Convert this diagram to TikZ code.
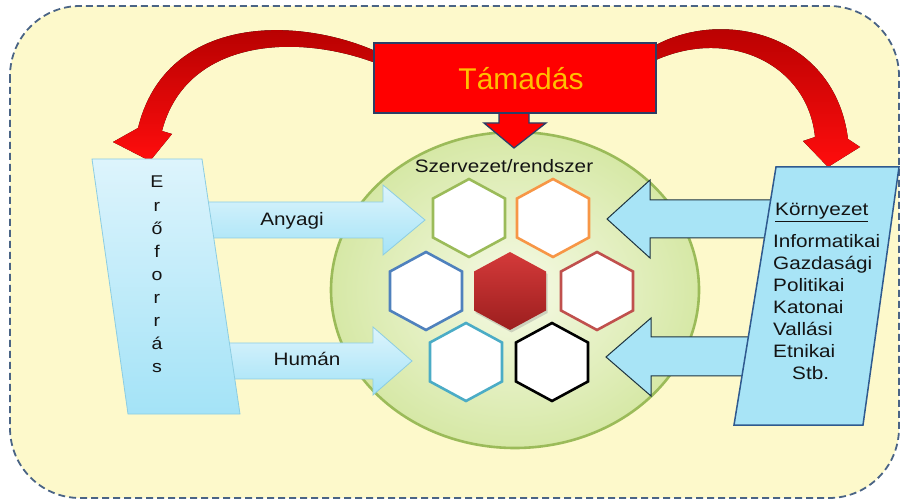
\documentclass[tikz,border=0pt]{standalone}
\usepackage{fontspec}
\setmainfont{Liberation Sans}
\newfontfamily\wfont{Liberation Sans}[FakeStretch=1.15]
\usetikzlibrary{shadows}
\definecolor{bgyel}{HTML}{FDF9CB}
\definecolor{dashc}{HTML}{4A6485}
\definecolor{rdark}{HTML}{B00000}
\definecolor{navy}{HTML}{2C3E66}
\definecolor{cin}{HTML}{F6FAE6}
\definecolor{cout}{HTML}{D6E8A6}
\definecolor{cring}{HTML}{9BBB59}
\definecolor{hgreen}{HTML}{9BBB59}
\definecolor{horange}{HTML}{F79646}
\definecolor{hblue}{HTML}{4F81BD}
\definecolor{hred}{HTML}{C0504D}
\definecolor{hcyan}{HTML}{4BACC6}
\definecolor{hctop}{HTML}{D43A3A}
\definecolor{hcbot}{HTML}{9C1E1E}
\definecolor{lbtop}{HTML}{DDF4FC}
\definecolor{lbbot}{HTML}{A4E3F7}
\definecolor{lbdraw}{HTML}{8CCDE2}
\definecolor{rbfill}{HTML}{A8E4F6}
\definecolor{rbdraw}{HTML}{2F5A8F}
\definecolor{rarrdraw}{HTML}{1E3440}
\definecolor{tamc}{HTML}{FFC000}
\definecolor{txt}{HTML}{141414}
\tikzset{
  redcurve/.style={top color=rdark, bottom color=red!95!white},
  hexline/.style={line width=2.6pt, fill=white, line join=miter},
  leftarr/.style={top color=lbtop, bottom color=lbbot, draw=lbdraw, line width=0.8pt},
  rightarr/.style={fill=rbfill, draw=rarrdraw, line width=1pt},
  lbl/.style={font=\wfont\fontsize{18}{22}\selectfont, text=txt, inner sep=0pt, anchor=base},
  envtxt/.style={font=\wfont\fontsize{18}{22}\selectfont, text=txt, inner sep=0pt, anchor=base west},
  letter/.style={font=\wfont\fontsize{17}{20}\selectfont, text=txt, inner sep=0pt, anchor=base}
}
\newcommand\hexpath{(0,-39) -- (36,-19.5) -- (36,19.5) -- (0,39) -- (-36,19.5) -- (-36,-19.5) -- cycle}
\begin{document}
\begin{tikzpicture}[x=1pt,y=-1pt]
\path[use as bounding box] (0,0) rectangle (902,502);
% background frame
\draw[dashc, line width=1.8pt, dash pattern=on 7pt off 4pt, fill=bgyel, rounded corners=70pt] (10,6) rectangle (899,498);

% system ellipse
\draw[cring, line width=2.6pt, inner color=cin, outer color=cout] (515,290) ellipse [x radius=184, y radius=158];

% red curved arrows
\fill[redcurve] (373,50) .. controls (290,15) and (165,18) .. (138,128) -- (113,142) -- (150,161) -- (172,134) -- (162,131) .. controls (185,42) and (290,32) .. (373,62) -- cycle;
\fill[redcurve] (656,45) .. controls (725,8) and (835,35) .. (848,139) -- (860,147) -- (828,167) -- (803,141) -- (815,137) .. controls (808,65) and (730,27) .. (656,60) -- cycle;

% down arrow and attack box
\draw[fill=red, draw=navy, line width=1.3pt, line join=miter] (499,110) -- (499,123) -- (484,123) -- (514,148) -- (546,123) -- (529,123) -- (529,110);
\draw[fill=red, draw=navy, line width=1.5pt] (374,43) rectangle (656,113);
\node[font=\fontsize{30}{34}\selectfont, text=tamc, inner sep=0pt, anchor=base] (tam) at (521,90) {Támadás};

% hexagons
\draw[hexline, draw=hgreen, shift={(469,218)}] \hexpath;
\draw[hexline, draw=horange, shift={(553,218)}] \hexpath;
\draw[hexline, draw=hblue, shift={(426,291)}] \hexpath;
\draw[hexline, draw=hred, shift={(597,291)}] \hexpath;
\draw[hexline, draw=hcyan, shift={(466,362)}] \hexpath;
\draw[hexline, draw=black, shift={(552,362)}] \hexpath;
\path[shift={(510,291)}, top color=hctop, bottom color=hcbot, drop shadow={opacity=0.3, shadow xshift=1.5pt, shadow yshift=-2.5pt}] \hexpath;

\node[lbl] (szr) at (504,173) {Szervezet/rendszer};

% left arrows
\path[leftarr] (200,202) -- (383,202) -- (383,185) -- (425,220) -- (383,255) -- (383,238) -- (200,238) -- cycle;
\path[leftarr] (228,343) -- (373,343) -- (373,327) -- (412,361) -- (373,395) -- (373,379) -- (228,379) -- cycle;
\node[lbl] (any) at (292,226) {Anyagi};
\node[lbl] (hum) at (307,366) {Humán};

% left resource box
\path[top color=lbtop, bottom color=lbbot, draw=lbdraw, line width=0.8pt] (92,159) -- (202,159) -- (240,414) -- (128,414) -- cycle;
\foreach \ch [count=\i from 0] in {E,r,ő,f,o,r,r,á,s}{
  \node[letter] (l\i) at (157,{188+23.1*\i}) {\ch};
}

% right arrows
\path[rightarr] (785,200) -- (650,200) -- (650,180) -- (607,219) -- (650,258) -- (650,238) -- (785,238);
\path[rightarr] (770,337) -- (651,337) -- (651,318) -- (606,357) -- (651,396) -- (651,376) -- (770,376);

% right environment box
\draw[fill=rbfill, draw=rbdraw, line width=1.5pt] (776,167) -- (899,167) -- (863,425) -- (734,425) -- cycle;
\node[envtxt] (env) at (775,216) {\underline{Környezet}};
\node[envtxt] (e1) at (773,248) {Informatikai};
\node[envtxt] (e2) at (773,270) {Gazdasági};
\node[envtxt] (e3) at (773,292) {Politikai};
\node[envtxt] (e4) at (773,314) {Katonai};
\node[envtxt] (e5) at (773,336) {Vallási};
\node[envtxt] (e6) at (773,358) {Etnikai};
\node[envtxt] (e7) at (792,380) {Stb.};
\end{tikzpicture}
\end{document}
